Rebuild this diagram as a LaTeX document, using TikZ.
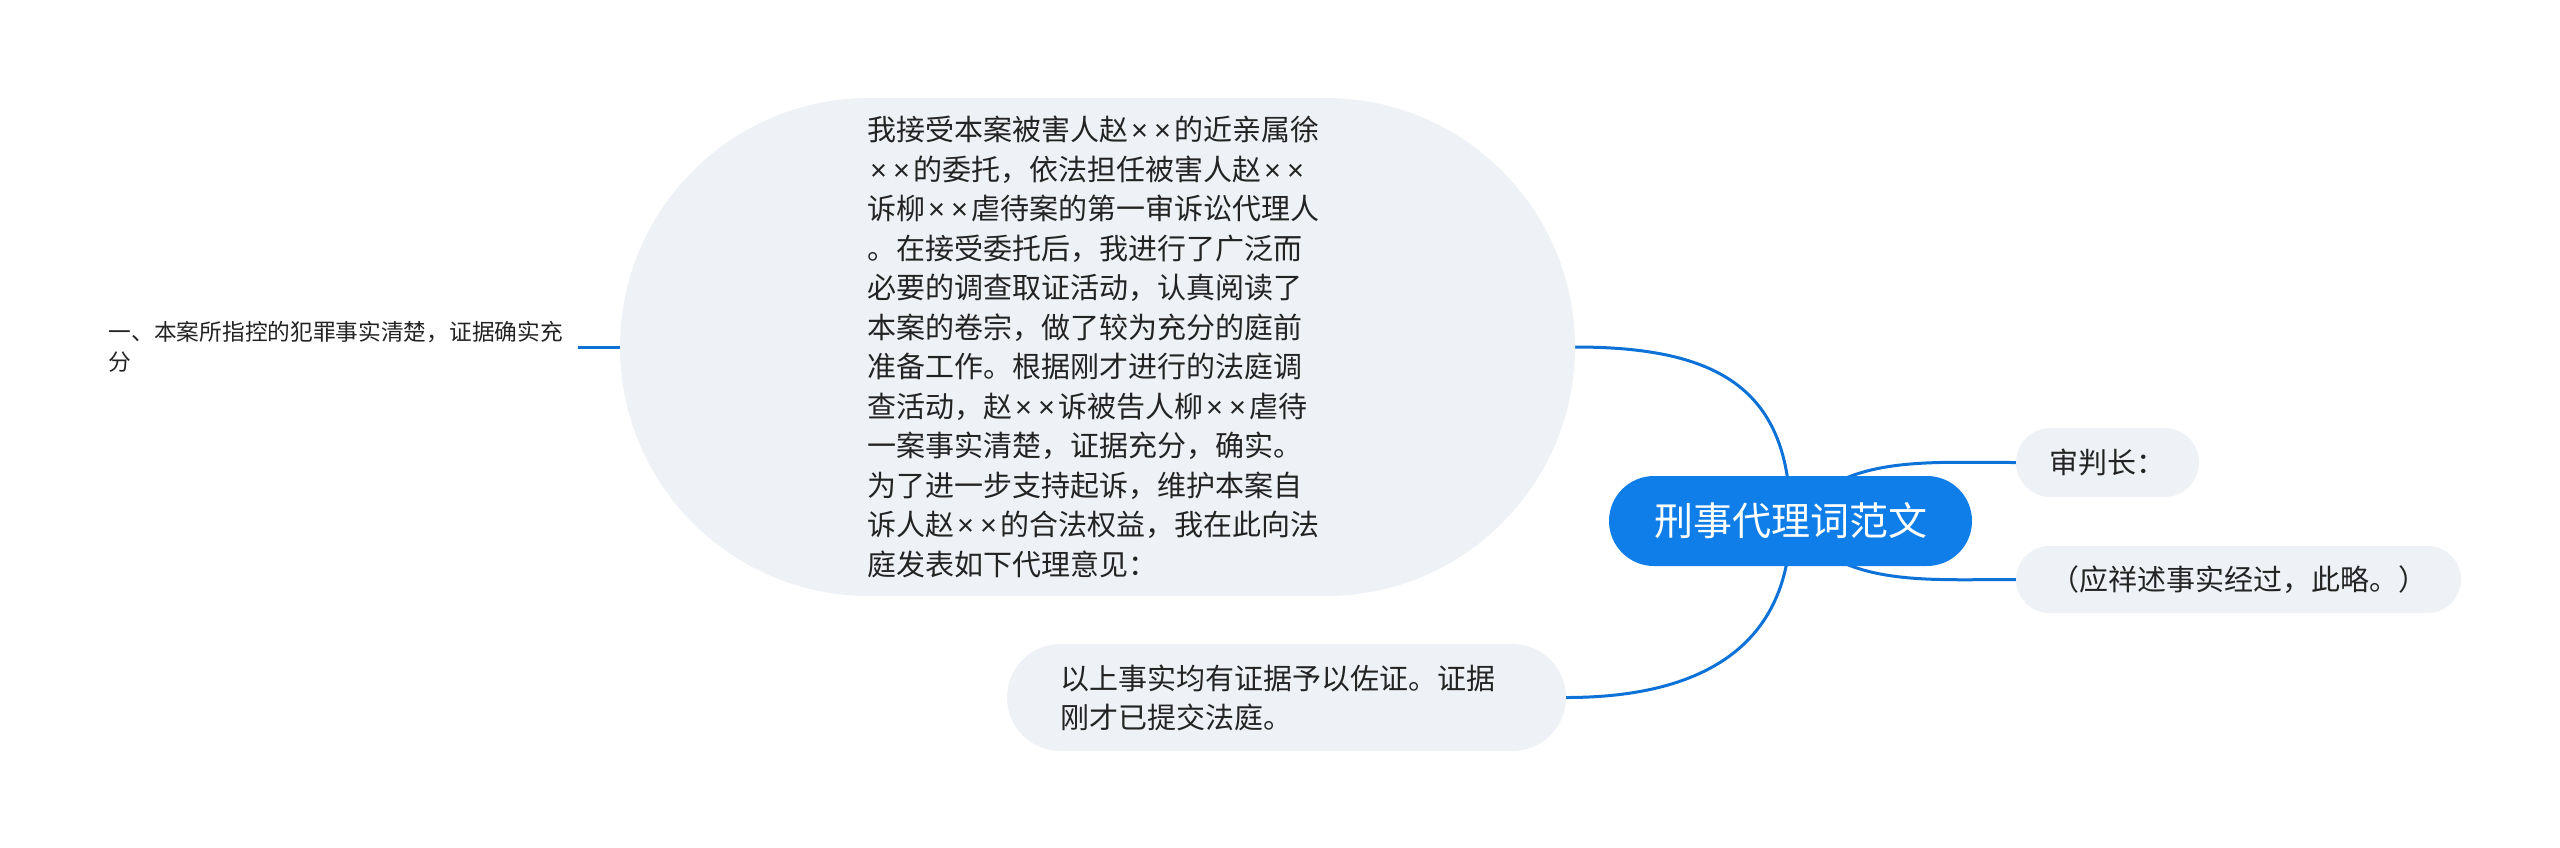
\documentclass[tikz,border=0pt]{standalone}
\usepackage{fontspec}
\setmainfont{Noto Sans CJK SC}
\newfontfamily\latinfam{Liberation Sans}
\usetikzlibrary{backgrounds}
\definecolor{mmblue}{RGB}{16,126,232}
\definecolor{mmline}{RGB}{12,114,216}
\definecolor{mmgray}{RGB}{238,241,245}
\definecolor{mmtext}{RGB}{35,35,35}
\newcommand\tms{\leavevmode\hbox to 23pt{\hss\latinfam ×\hss}}
\tikzset{
  bubble/.style={fill=mmgray, draw=none, text=mmtext, inner sep=0pt},
  rootbox/.style={fill=mmblue, draw=none, text=white, inner sep=0pt,
    minimum width=363pt, minimum height=90pt, rounded corners=45pt,
    font=\fontsize{39pt}{46pt}\selectfont},
  link/.style={draw=mmline, line width=3pt}
}
\begin{document}
\begin{tikzpicture}[x=1pt,y=-1pt]
\useasboundingbox (0,0) rectangle (2560,847);

\node[rootbox] (root) at (1790.5,521) {刑事代理词范文};

\node[bubble, minimum width=955pt, minimum height=498pt, rounded corners=249pt,
  text width=461pt, inner xsep=247pt, align=left,
  font=\fontsize{29pt}{39.5pt}\selectfont] (main) at (1097.5,347)
  {我接受本案被害人赵\tms\tms 的近亲属徐\\\tms\tms 的委托，依法担任被害人赵\tms\tms\\诉柳\tms\tms 虐待案的第一审诉讼代理人\\。在接受委托后，我进行了广泛而\\必要的调查取证活动，认真阅读了\\本案的卷宗，做了较为充分的庭前\\准备工作。根据刚才进行的法庭调\\查活动，赵\tms\tms 诉被告人柳\tms\tms 虐待\\一案事实清楚，证据充分，确实。\\为了进一步支持起诉，维护本案自\\诉人赵\tms\tms 的合法权益，我在此向法\\庭发表如下代理意见：};

\node[inner sep=0pt, text=mmtext, text width=469pt, align=left, anchor=east,
  font=\fontsize{22.7pt}{30pt}\selectfont] (one) at (578,347)
  {一、本案所指控的犯罪事实清楚，证据确实充\\分};

\node[bubble, minimum width=559pt, minimum height=107pt, rounded corners=53.5pt,
  text width=453pt, inner xsep=53pt, align=left,
  font=\fontsize{29pt}{39pt}\selectfont] (proof) at (1286.5,697.5)
  {以上事实均有证据予以佐证。证据\\刚才已提交法庭。};

\node[bubble, minimum width=183pt, minimum height=69pt, rounded corners=34.5pt,
  font=\fontsize{29pt}{35pt}\selectfont] (judge) at (2107.5,462.5) {审判长：};

\node[bubble, minimum width=445pt, minimum height=67pt, rounded corners=33.5pt,
  font=\fontsize{29pt}{35pt}\selectfont] (facts) at (2238.5,579.5) {（应祥述事实经过，此略。）};

\begin{pgfonlayer}{background}
\draw[link] (root.center) .. controls +(0,-131) and +(145,0) .. (main.east);
\draw[link] (root.center) .. controls +(0,119) and +(144,0) .. (proof.east);
\draw[link] (root.center) .. controls +(50,-66) and +(-96,0) .. (judge.west);
\draw[link] (root.center) .. controls +(50,66) and +(-96,0) .. (facts.west);
\draw[link] (main.west) -- (one.east);
\end{pgfonlayer}
\end{tikzpicture}
\end{document}
